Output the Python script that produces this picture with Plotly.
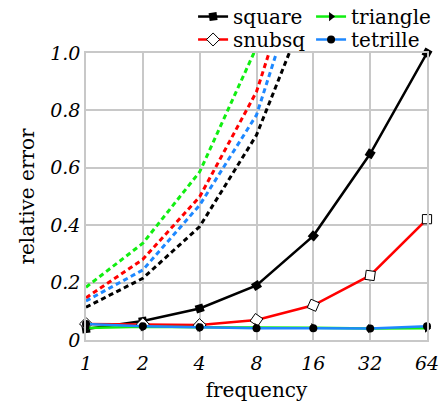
import numpy as np
import plotly.graph_objects as go

# ---- data ----
frequency = [1, 2, 4, 8, 16, 32, 64]
tick_labels_x = ["1", "2", "4", "8", "16", "32", "64"]
y_tick_vals = [0, 0.2, 0.4, 0.6, 0.8, 1.0]
y_tick_labels = ["0", "0.2", "0.4", "0.6", "0.8", "1.0"]

square = [0.038, 0.066, 0.110, 0.190, 0.363, 0.649, 1.0]
snubsq = [0.056, 0.055, 0.052, 0.070, 0.121, 0.225, 0.421]
triangle = [0.042, 0.046, 0.044, 0.044, 0.043, 0.040, 0.041]
tetrille = [0.056, 0.048, 0.044, 0.041, 0.041, 0.040, 0.048]

freq_dashed = [1, 2, 4, 8, 16]
square_dashed = [0.114, 0.215, 0.395, 0.714, 1.21]
snubsq_dashed = [0.147, 0.281, 0.499, 0.865, 1.48]
triangle_dashed = [0.184, 0.337, 0.586, 1.02, 1.8]
tetrille_dashed = [0.136, 0.244, 0.47, 0.784, 1.40]

# ---- style ----
W, H = 440, 406
M = dict(l=86, r=13, t=53, b=66, autoexpand=False)
PW, PH = W - M["l"] - M["r"], H - M["t"] - M["b"]
XR = [0, np.log10(64)]
YR = [0, 1.0]

BLACK = "#000000"
RED = "#ff0000"
GREEN = "#11ee11"
BLUE = "#1e88ff"
GRID = "#c8c8c8"
FONT = "DejaVu Serif"


def tangent_angles(xs, ys):
    px = np.log10(np.array(xs, float)) / (XR[1] - XR[0]) * PW
    py = np.array(ys, float) / (YR[1] - YR[0]) * PH
    d = np.gradient(py, px)
    return list(-np.degrees(np.arctan(d)))


fig = go.Figure()

for vals, col in [(square_dashed, BLACK), (tetrille_dashed, BLUE),
                  (snubsq_dashed, RED), (triangle_dashed, GREEN)]:
    fig.add_trace(go.Scatter(
        x=freq_dashed, y=vals, mode="lines", showlegend=False,
        line=dict(color=col, width=3, dash="5px,3.5px"), hoverinfo="skip"))

fig.add_trace(go.Scatter(
    x=frequency, y=square, name="square", mode="lines+markers",
    line=dict(color=BLACK, width=2.5), cliponaxis=False, legend="legend",
    marker=dict(symbol="square", size=8, color=BLACK,
                angle=tangent_angles(frequency, square))))
fig.add_trace(go.Scatter(
    x=frequency, y=snubsq, name="snubsq", mode="lines+markers",
    line=dict(color=RED, width=2.5), cliponaxis=False, legend="legend2",
    marker=dict(symbol="diamond", size=10, color="white",
                line=dict(color=BLACK, width=1),
                angle=tangent_angles(frequency, snubsq))))
fig.add_trace(go.Scatter(
    x=frequency, y=triangle, name="triangle", mode="lines+markers",
    line=dict(color=GREEN, width=2.5), cliponaxis=False, legend="legend3",
    marker=dict(symbol="triangle-right", size=8, color=BLACK)))
fig.add_trace(go.Scatter(
    x=frequency, y=tetrille, name="tetrille", mode="lines+markers",
    line=dict(color=BLUE, width=2.5), cliponaxis=False, legend="legend4",
    marker=dict(symbol="circle", size=8, color=BLACK)))

axis_common = dict(showgrid=True, gridcolor=GRID, gridwidth=1.5,
                   showline=True, linecolor=GRID, linewidth=1.5, mirror=True,
                   zeroline=False, ticks="", ticklabeloverflow="allow",
                   tickfont=dict(family=FONT, size=19, color=BLACK, style="italic"))


def leg(x, y):
    return dict(x=x, y=y, xanchor="left", yanchor="top",
                bgcolor="rgba(0,0,0,0)", itemwidth=30,
                font=dict(family=FONT, size=20))


fig.update_layout(
    width=W, height=H, margin=M,
    paper_bgcolor="white", plot_bgcolor="white",
    font=dict(family=FONT, size=20, color=BLACK),
    xaxis=dict(type="log", range=XR, tickvals=frequency, ticktext=tick_labels_x,
               ticklabelstandoff=5,
               title=dict(text="frequency", font=dict(family=FONT, size=20), standoff=10),
               **axis_common),
    yaxis=dict(range=YR, tickvals=y_tick_vals, ticktext=y_tick_labels,
               title=dict(text="relative error", font=dict(family=FONT, size=20), standoff=10),
               **axis_common),
    legend=leg(0.314, 1.195),
    legend2=leg(0.314, 1.115),
    legend3=leg(0.660, 1.195),
    legend4=leg(0.660, 1.115),
)

fig.write_html("out.html")
